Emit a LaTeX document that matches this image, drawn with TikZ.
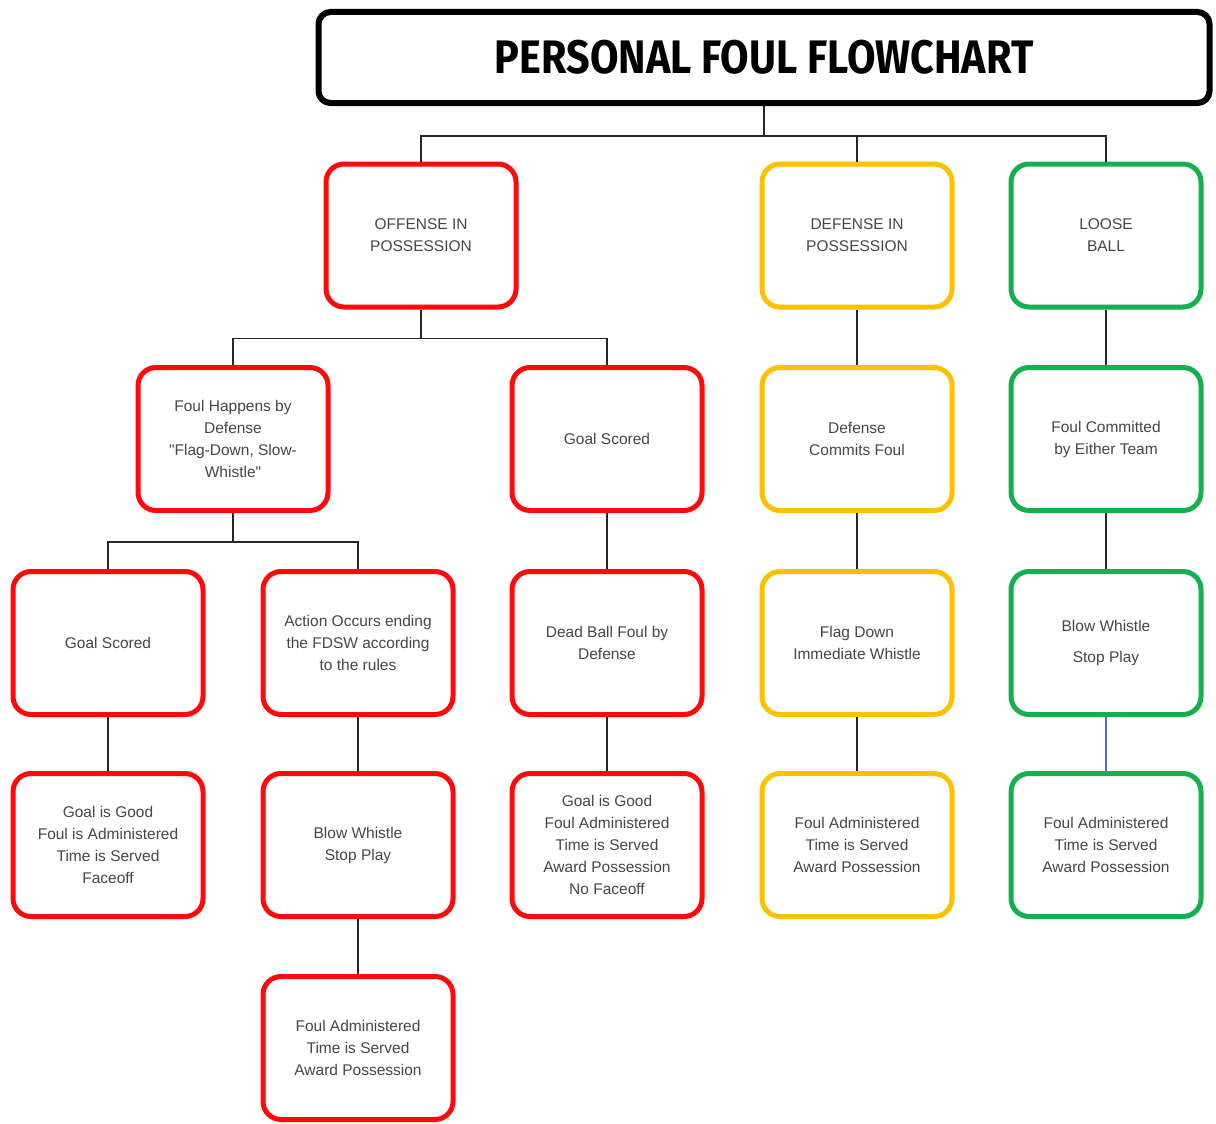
\documentclass[tikz,border=0pt]{standalone}
\usepackage{fontspec}
\setmainfont{Liberation Sans}[Ligatures=TeXOff]
\newfontfamily\titlefont{Fira Sans}
\definecolor{cred}{RGB}{255,10,10}
\definecolor{cyel}{RGB}{255,192,0}
\definecolor{cgrn}{RGB}{20,176,80}
\definecolor{ctxt}{RGB}{70,70,70}
\definecolor{cblue}{RGB}{70,110,220}
\tikzset{
  box/.style={draw=#1, line width=5pt, rounded corners=18pt, minimum width=190pt, minimum height=143pt,
    align=center, text=ctxt, font=\fontsize{15.5}{22}\selectfont, inner sep=2pt, fill=white},
  conn/.style={draw=black!85, line width=1.8pt},
}
\begin{document}
\begin{tikzpicture}[x=1pt,y=-1pt]
\useasboundingbox (0,0) rectangle (1216,1124);
\fill[white] (0,0) rectangle (1216,1124);
\node[draw=black, line width=6pt, rounded corners=12pt, minimum width=891pt, minimum height=91pt, fill=white,
  font=\titlefont\bfseries\fontsize{47}{50}\selectfont] (title) at (764,57.5) {\scalebox{0.88}[1]{PERSONAL FOUL FLOWCHART}};

% row 1
\node[box=cred] (o1) at (421,235.5) {OFFENSE IN\\POSSESSION};
\node[box=cyel] (d1) at (857,235.5) {DEFENSE IN\\POSSESSION};
\node[box=cgrn] (l1) at (1106,235.5) {LOOSE\\BALL};
% row 2
\node[box=cred] (o2a) at (233,439) {Foul Happens by\\Defense\\"Flag-Down, Slow-\\Whistle"};
\node[box=cred] (o2b) at (607,439) {Goal Scored};
\node[box=cyel] (d2) at (857,439) {Defense\\Commits Foul};
\node[box=cgrn] (l2) at (1106,439) {Foul Committed\\by Either Team};
% row 3
\node[box=cred] (o3a) at (108,643) {Goal Scored};
\node[box=cred] (o3b) at (358,643) {Action Occurs ending\\the FDSW according\\to the rules};
\node[box=cred] (o3c) at (607,643) {Dead Ball Foul by\\Defense};
\node[box=cyel] (d3) at (857,643) {Flag Down\\Immediate Whistle};
\node[box=cgrn, font=\fontsize{15.5}{31}\selectfont] (l3) at (1106,643) {Blow Whistle\\Stop Play};
% row 4
\node[box=cred] (o4a) at (108,845) {Goal is Good\\Foul is Administered\\Time is Served\\Faceoff};
\node[box=cred] (o4b) at (358,845) {Blow Whistle\\Stop Play};
\node[box=cred] (o4c) at (607,845) {Goal is Good\\Foul Administered\\Time is Served\\Award Possession\\No Faceoff};
\node[box=cyel] (d4) at (857,845) {Foul Administered\\Time is Served\\Award Possession};
\node[box=cgrn] (l4) at (1106,845) {Foul Administered\\Time is Served\\Award Possession};
% row 5
\node[box=cred] (o5) at (358,1048) {Foul Administered\\Time is Served\\Award Possession};

% connectors
\draw[conn] (title.south) -- ++(0,30) coordinate (j0);
\draw[conn] (j0) -| (o1.north);
\draw[conn] (j0) -| (d1.north);
\draw[conn] (j0) -| (l1.north);
\draw[conn] (o1.south) -- ++(0,29) coordinate (j1);
\draw[conn] (j1) -| (o2a.north);
\draw[conn] (j1) -| (o2b.north);
\draw[conn] (o2a.south) -- ++(0,29) coordinate (j2);
\draw[conn] (j2) -| (o3a.north);
\draw[conn] (j2) -| (o3b.north);
\draw[conn] (o2b) -- (o3c);
\draw[conn] (o3c) -- (o4c);
\draw[conn] (o3a) -- (o4a);
\draw[conn] (o3b) -- (o4b);
\draw[conn] (o4b) -- (o5);
\draw[conn] (d1) -- (d2);
\draw[conn] (d2) -- (d3);
\draw[conn] (d3) -- (d4);
\draw[conn] (l1) -- (l2);
\draw[conn] (l2) -- (l3);
\draw[draw=cblue, line width=1.6pt] (l3) -- (l4);
\end{tikzpicture}
\end{document}
